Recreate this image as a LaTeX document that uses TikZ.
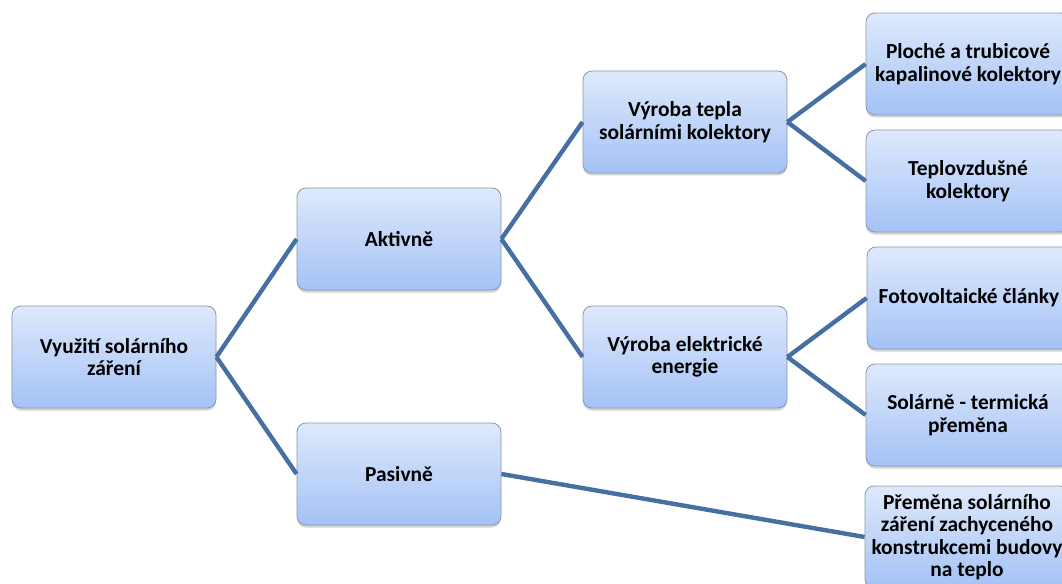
\documentclass[tikz,border=0pt]{standalone}
\usepackage{fontspec}
\setmainfont{Carlito}
\usetikzlibrary{shadows}
\definecolor{boxtop}{RGB}{222,233,251}
\definecolor{boxbot}{RGB}{164,194,246}
\definecolor{boxline}{RGB}{140,152,170}
\definecolor{conn}{RGB}{70,112,162}
\tikzset{
  box/.style={rectangle, rounded corners=9bp, draw=boxline, line width=0.8bp,
    top color=boxtop, bottom color=boxbot, minimum width=204bp, minimum height=102bp,
    align=center, inner sep=2bp, font=\bfseries\fontsize{21.5}{22.5}\selectfont,
    drop shadow={shadow xshift=0bp, shadow yshift=-2.5bp, opacity=0.35, fill=gray}},
  conline/.style={draw=conn, line width=4.4bp}
}
\begin{document}
\begin{tikzpicture}[x=1bp,y=-1bp]
\useasboundingbox (0,0) rectangle (1062,584);
\node[box] (root) at (114,357) {Využití solárního\\záření};
\node[box] (akt) at (399,239) {Aktivně};
\node[box] (pas) at (399,474) {Pasivně};
\node[box] (tep) at (685,122) {Výroba tepla\\solárními kolektory};
\node[box] (ele) at (685,357) {Výroba elektrické\\energie};
\node[box] (plo) at (968,64) {Ploché a trubicové\\kapalinové kolektory};
\node[box] (tv) at (968,181) {Teplovzdušné\\kolektory};
\node[box] (fv) at (969,298) {Fotovoltaické články};
\node[box] (st) at (968,415) {Solárně - termická\\přeměna};
\node[box] (pre) at (967,537) {Přeměna solárního\\záření zachyceného\\konstrukcemi budovy\\na teplo};
\draw[conline] (root.east) -- (akt.west);
\draw[conline] (root.east) -- (pas.west);
\draw[conline] (akt.east) -- (tep.west);
\draw[conline] (akt.east) -- (ele.west);
\draw[conline] (tep.east) -- (plo.west);
\draw[conline] (tep.east) -- (tv.west);
\draw[conline] (ele.east) -- (fv.west);
\draw[conline] (ele.east) -- (st.west);
\draw[conline] (pas.east) -- (pre.west);
\end{tikzpicture}
\end{document}
